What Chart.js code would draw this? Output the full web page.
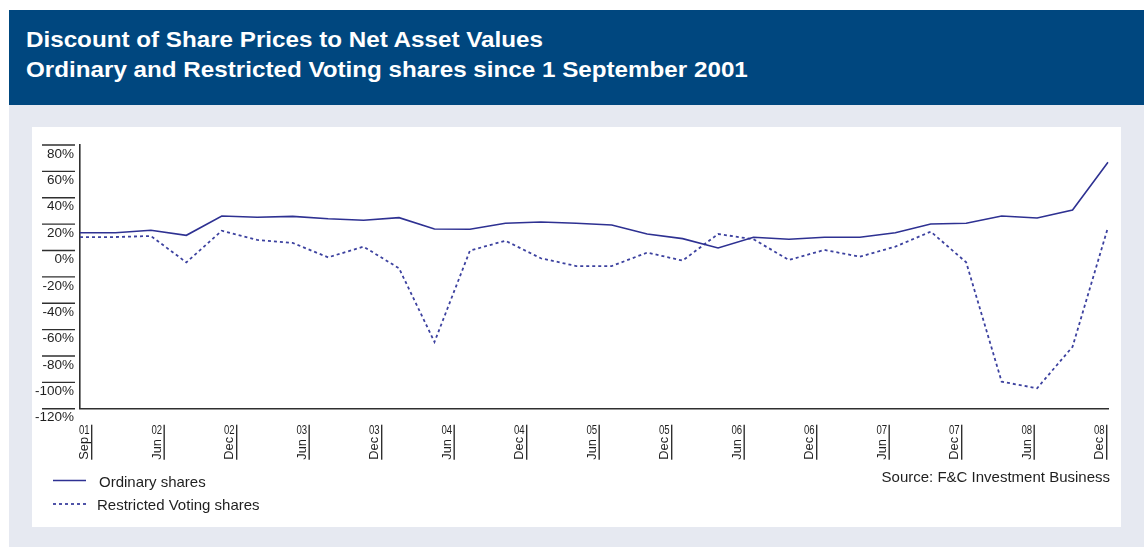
<!DOCTYPE html>
<html>
<head>
<meta charset="utf-8">
<script src="https://cdn.jsdelivr.net/npm/chart.js@4.4.1/dist/chart.umd.min.js"></script>
<style>
  html, body { margin: 0; padding: 0; background: #ffffff; }
  body { width: 1144px; height: 547px; position: relative; overflow: hidden;
         font-family: "Liberation Sans", Arial, Helvetica, sans-serif; }
  #banner { position: absolute; left: 9px; top: 10px; width: 1135px; height: 95px; background: #00477f; }
  .title { position: absolute; left: 17px; color: #ffffff; font-weight: bold; font-size: 22px;
           line-height: 30px; white-space: nowrap; transform: scaleX(1.1); transform-origin: 0 0; }
  #panel { position: absolute; left: 9px; top: 105px; width: 1135px; height: 442px; background: #e6e9f1; }
  #plot { position: absolute; left: 32px; top: 127px; width: 1089px; height: 400px; background: #ffffff; }
  canvas { display: block; }
</style>
</head>
<body>
<div id="banner">
  <div class="title" style="top:15px">Discount of Share Prices to Net Asset Values</div>
  <div class="title" style="top:45px">Ordinary and Restricted Voting shares since 1 September 2001</div>
</div>
<div id="panel"></div>
<div id="plot"><canvas id="chart" width="1089" height="400"></canvas></div>
<script>
// Quarter-end observations, September 2001 to December 2008
const quarters = ['Sep 01','Dec 01','Mar 02','Jun 02','Sep 02','Dec 02','Mar 03','Jun 03','Sep 03','Dec 03',
                  'Mar 04','Jun 04','Sep 04','Dec 04','Mar 05','Jun 05','Sep 05','Dec 05','Mar 06','Jun 06',
                  'Sep 06','Dec 06','Mar 07','Jun 07','Sep 07','Dec 07','Mar 08','Jun 08','Sep 08','Dec 08'];

// Discount of share price to NAV, per cent
const ordinary   = [13.5, 13.5, 15.3, 11.5, 26.2, 25.2, 25.9, 24.1, 22.9, 24.9,
                    16.3, 16.1, 20.6, 21.6, 20.6, 19.3, 12.5,  9.0,  1.9, 10.0,
                     8.5, 10.0, 10.0, 13.5, 20.1, 20.6, 26.2, 24.6, 30.7, 66.9];
const restricted = [10.2, 10.2, 11.0, -9.0, 15.0,  8.0,  5.7, -5.2,  2.9, -13.5,
                   -69.4, -0.1,  7.4, -5.9, -11.8, -11.8, -1.6, -7.7, 12.5,  8.5,
                    -7.2,  0.4, -4.7,  2.9, 14.3,  -9.0, -99.5, -104.5, -73.0, 17.6];

// Axis labels along the bottom (month over year)
const tickMonths = ['Sep','Jun','Dec','Jun','Dec','Jun','Dec','Jun','Dec','Jun','Dec','Jun','Dec','Jun','Dec'];
const tickYears  = ['01','02','02','03','03','04','04','05','05','06','06','07','07','08','08'];

const seriesNames = ['Ordinary shares', 'Restricted Voting shares'];
const sourceNote = 'Source: F&C Investment Business';

const FONT = '"Liberation Sans", Arial, Helvetica, sans-serif';
const AXIS = '#2f2f2f';
const TEXT = '#1f1f1f';

// Tick strokes left of the y axis, the month/year labels under the x axis, legend and source
const decorations = {
  id: 'decorations',
  afterDraw(chart) {
    const { ctx, chartArea, scales } = chart;
    const y = scales.y, xt = scales.xt;
    ctx.save();
    ctx.strokeStyle = AXIS;
    ctx.lineWidth = 1.4;
    y.ticks.forEach(t => {
      const py = y.getPixelForValue(t.value);
      ctx.beginPath();
      ctx.moveTo(chartArea.left - 38, py);
      ctx.lineTo(chartArea.left - 5, py);
      ctx.stroke();
    });

    const b = chartArea.bottom;
    ctx.fillStyle = TEXT;
    tickMonths.forEach((m, i) => {
      const px = xt.getPixelForValue(i);
      ctx.beginPath();
      ctx.moveTo(px, b + 16);
      ctx.lineTo(px, b + 51);
      ctx.stroke();

      ctx.save();
      ctx.translate(px - 3.5, b + 51);
      ctx.rotate(-Math.PI / 2);
      ctx.font = '12.8px ' + FONT;
      ctx.textAlign = 'left';
      ctx.textBaseline = 'alphabetic';
      ctx.fillText(m, 0, 0);
      ctx.restore();

      ctx.save();
      ctx.translate(px - 2, b + 25.5);
      ctx.scale(0.8, 1);
      ctx.font = '12px ' + FONT;
      ctx.textAlign = 'right';
      ctx.textBaseline = 'alphabetic';
      ctx.fillText(tickYears[i], 0, 0);
      ctx.restore();
    });

    // legend
    ctx.font = '15px ' + FONT;
    ctx.textAlign = 'left';
    ctx.textBaseline = 'middle';
    chart.data.datasets.forEach((ds, i) => {
      const ly = 353.5 + i * 23.5;
      ctx.save();
      ctx.strokeStyle = ds.borderColor;
      ctx.lineWidth = ds.borderWidth;
      ctx.setLineDash(ds.borderDash || []);
      ctx.beginPath();
      ctx.moveTo(21, ly);
      ctx.lineTo(54, ly);
      ctx.stroke();
      ctx.restore();
      ctx.fillText(ds.label, i === 0 ? 67 : 65, ly + 2);
    });

    ctx.textAlign = 'right';
    ctx.fillText(sourceNote, 1078, 351);
    ctx.restore();
  }
};

new Chart(document.getElementById('chart'), {
  type: 'line',
  data: {
    labels: quarters,
    datasets: [
      { label: seriesNames[0], data: ordinary, borderColor: '#2e3192', borderWidth: 1.6,
        pointRadius: 0, tension: 0, fill: false },
      { label: seriesNames[1], data: restricted, borderColor: '#3c419f', borderWidth: 1.8,
        borderDash: [3, 3], pointRadius: 0, tension: 0, fill: false }
    ]
  },
  options: {
    responsive: false,
    animation: false,
    devicePixelRatio: 1,
    layout: { padding: { left: 0, top: 18, right: 13, bottom: 118.3 } },
    plugins: { legend: { display: false }, tooltip: { enabled: false } },
    scales: {
      x: {
        type: 'category',
        offset: false,
        grid: { display: false, drawTicks: false },
        ticks: { display: false },
        border: { display: true, color: AXIS, width: 1.6 },
        afterFit(s) { s.height = 0; }
      },
      xt: {
        type: 'linear',
        position: 'bottom',
        min: -0.161,
        max: 14.018,
        grid: { display: false, drawTicks: false },
        ticks: { display: false },
        border: { display: false },
        afterFit(s) { s.height = 0; }
      },
      y: {
        min: -120,
        max: 80,
        grid: { display: false, drawTicks: false },
        border: { display: true, color: AXIS, width: 1.6 },
        ticks: {
          stepSize: 20,
          padding: 6,
          labelOffset: 9,
          color: TEXT,
          font: { family: FONT, size: 13.5 },
          callback: v => v + '%'
        },
        afterFit(s) { s.width = 48; }
      }
    }
  },
  plugins: [decorations]
});
</script>
</body>
</html>
